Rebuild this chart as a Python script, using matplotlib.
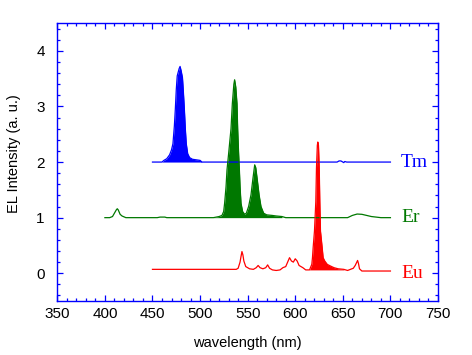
import numpy as np
import matplotlib
matplotlib.use("Agg")
import matplotlib.pyplot as plt
from matplotlib.ticker import MultipleLocator

# spectra (wavelength nm, EL intensity with offsets)
tm_wl = [450, 460, 462, 465, 468, 470, 471.5, 473, 474, 475, 476, 478, 479,
         480, 481.5, 482.5, 483.5, 484.5, 485.5, 487, 489, 492, 500, 502,
         600, 644, 646, 648, 650, 651, 652, 654, 656, 700]
tm_int = [2.0, 2.0, 2.03, 2.06, 2.13, 2.22, 2.33, 2.65, 2.95, 3.3, 3.55,
          3.68, 3.72, 3.65, 3.52, 3.25, 2.95, 2.6, 2.33, 2.15, 2.08, 2.05,
          2.03, 2.0, 2.0, 2.0, 2.02, 2.02, 2.0, 1.99, 2.01, 2.0, 2.0, 2.0]

er_wl = [400, 405, 408, 410, 412, 413, 414, 416, 418, 422, 455, 458, 463, 465,
         514, 520, 523, 524.8, 525.8, 527.3, 528.3, 530, 532.5, 533.9, 535.5,
         536.3, 537.5, 538.8, 539.5, 540.5, 541.3, 542, 543, 544.7, 546.8,
         548.6, 551, 553.5, 555.6, 557.4, 558.5, 559.9, 562, 564, 566.8, 570,
         575.7, 580, 586, 590, 655, 660, 665, 670, 675, 680, 690, 700]
er_int = [1.0, 1.0, 1.02, 1.08, 1.14, 1.16, 1.14, 1.06, 1.03, 1.0, 1.0, 1.01,
          1.01, 1.0, 1.0, 1.02, 1.04, 1.11, 1.26, 1.56, 1.86, 2.15, 2.6, 3.05,
          3.4, 3.48, 3.35, 3.05, 2.6, 2.15, 1.86, 1.56, 1.26, 1.11, 1.06, 1.08,
          1.2, 1.41, 1.71, 1.95, 1.9, 1.71, 1.41, 1.2, 1.08, 1.05, 1.04, 1.03,
          1.02, 1.0, 1.0, 1.04, 1.065, 1.06, 1.04, 1.02, 1.0, 1.0]

eu_wl = [450, 500, 538, 540, 542, 543, 544, 545, 546, 548, 552, 556, 559, 561,
         563, 566, 569, 571, 573, 576, 580, 584, 587, 590, 592, 594, 596, 598,
         600, 602, 604, 606, 608, 611, 615, 617.4, 618.1, 618.8, 620.2, 621.6,
         622.3, 623.2, 623.7, 624.4, 625.2, 625.8, 626.5, 628.3, 629.3, 631,
         633.6, 637, 640.7, 645, 651, 655, 658, 661, 663, 665.5, 666.5, 667.5,
         670, 700]
eu_int = [0.07, 0.07, 0.07, 0.09, 0.2, 0.3, 0.39, 0.33, 0.22, 0.12, 0.08, 0.07,
          0.1, 0.14, 0.1, 0.08, 0.1, 0.15, 0.09, 0.06, 0.05, 0.06, 0.1, 0.12,
          0.2, 0.28, 0.22, 0.2, 0.26, 0.22, 0.14, 0.12, 0.1, 0.06, 0.06, 0.16,
          0.28, 0.46, 0.76, 1.29, 1.89, 2.3, 2.36, 2.3, 1.89, 1.29, 0.76, 0.46,
          0.28, 0.22, 0.16, 0.13, 0.1, 0.08, 0.07, 0.05, 0.07, 0.09, 0.14,
          0.23, 0.17, 0.08, 0.04, 0.04]

# (name, wl, intensity, colour, filled range)
series = [
    ("Tm", tm_wl, tm_int, "#0000ff", (460, 502)),
    ("Er", er_wl, er_int, "#007800", (514, 586)),
    ("Eu", eu_wl, eu_int, "#ff0000", (615, 651)),
]
label_y = [2.0, 1.0, 0.0]

fig = plt.figure(figsize=(4.72, 3.55), dpi=100)
ax = fig.add_axes([0.1214, 0.152, 0.8066, 0.783])

for (name, wl, y, col, (lo, hi)), ly in zip(series, label_y):
    wl = np.array(wl, dtype=float)
    y = np.array(y, dtype=float)
    ax.plot(wl, y, color=col, lw=0.9)
    m = (wl >= lo) & (wl <= hi)
    ax.fill_between(wl[m], y[m], y[m].min(), color=col, lw=0)
    ax.text(711, ly, name, color=col, fontsize=14, va="center",
            family="Liberation Serif")

ax.set_xlim(350, 750)
ax.set_ylim(-0.5, 4.5)
ax.xaxis.set_major_locator(MultipleLocator(50))
ax.xaxis.set_minor_locator(MultipleLocator(10))
ax.yaxis.set_major_locator(MultipleLocator(1))
ax.yaxis.set_minor_locator(MultipleLocator(0.2))
ax.set_yticks([0, 1, 2, 3, 4])

for s in ax.spines.values():
    s.set_color("#0000ff")
    s.set_linewidth(1.0)
ax.tick_params(which="both", direction="in", top=True, right=True,
               color="#0000ff", width=0.9, labelsize=11,
               labelfontfamily="Liberation Sans")
ax.tick_params(which="major", length=4.3)
ax.tick_params(which="minor", length=2.3)
ax.tick_params(axis="y", pad=9)
ax.tick_params(axis="x", pad=4)

ax.set_xlabel("wavelength (nm)", fontsize=10.5, family="Liberation Sans",
              labelpad=11)
ax.set_ylabel("EL Intensity (a. u.)", fontsize=10.5, family="Liberation Sans")
ax.yaxis.set_label_coords(-0.095, 0.53)

fig.savefig("out.png", dpi=100, facecolor="white")
